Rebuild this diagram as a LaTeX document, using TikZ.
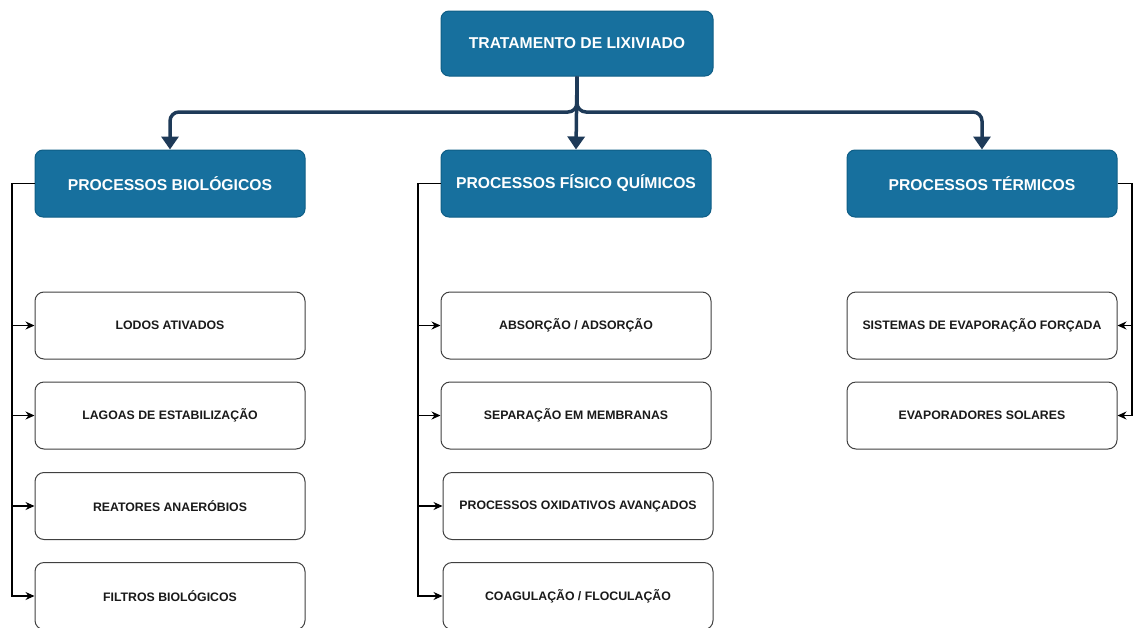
\documentclass[tikz,border=0pt]{standalone}
\usepackage{fontspec}
\setmainfont{Liberation Sans}
\usetikzlibrary{arrows.meta,positioning}
\definecolor{hdrfill}{HTML}{17709E}
\definecolor{hdrdraw}{HTML}{0F5E86}
\definecolor{busc}{HTML}{1E3A58}
\definecolor{txtc}{HTML}{1A1A1A}
\tikzset{
  hdr/.style={draw=hdrdraw, fill=hdrfill, line width=1pt, rounded corners=8pt,
    minimum width=270pt, minimum height=67pt, inner sep=0pt,
    text=white, font=\bfseries\fontsize{15.7}{18}\selectfont},
  child/.style={draw=black!75, fill=white, line width=1pt, rounded corners=9pt,
    minimum width=270pt, minimum height=67pt, inner sep=0pt,
    text=txtc, font=\bfseries\fontsize{12.3}{14}\selectfont},
  bus/.style={draw=busc, line width=3.5pt, rounded corners=9pt,
    -{Triangle[width=17pt,length=13pt]}},
  link/.style={draw=black, line width=1.1pt, -{Stealth[width=8pt,length=9pt]}}
}
\begin{document}
\begin{tikzpicture}[x=1pt,y=-1pt]
\useasboundingbox (0,0) rectangle (1133,627);
\node[hdr, minimum width=272pt, minimum height=65pt] (top) at (577,43.5) {TRATAMENTO DE LIXIVIADO};
\node[hdr] (pb) at (170,183.5) {PROCESSOS BIOLÓGICOS};
\node[hdr] (pfq) at (576,183.5) {PROCESSOS FÍSICO QUÍMICOS};
\node[hdr] (pt) at (982,183.5) {PROCESSOS TÉRMICOS};

\node[child] (b1) at (170,325.5) {LODOS ATIVADOS};
\node[child] (b2) at (170,415.5) {LAGOAS DE ESTABILIZAÇÃO};
\node[child] (b3) at (170,506) {REATORES ANAERÓBIOS};
\node[child] (b4) at (170,596) {FILTROS BIOLÓGICOS};

\node[child] (f1) at (576,325.5) {ABSORÇÃO / ADSORÇÃO};
\node[child] (f2) at (576,415.5) {SEPARAÇÃO EM MEMBRANAS};
\node[child] (f3) at (578,506) {PROCESSOS OXIDATIVOS AVANÇADOS};
\node[child] (f4) at (578,596) {COAGULAÇÃO / FLOCULAÇÃO};

\node[child] (t1) at (982,325.5) {SISTEMAS DE EVAPORAÇÃO FORÇADA};
\node[child] (t2) at (982,415.5) {EVAPORADORES SOLARES};

\coordinate (j) at (577,112);
\draw[bus] (top.south) -- (j) -| (pb.north);
\draw[bus] (top.south) -- (j) -| (pt.north);
\draw[bus] (top.south) -- (pfq.north);

\foreach \c in {b1,b2,b3,b4}
  \draw[link] (pb.west) -- (12,183.5) |- (\c.west);
\foreach \c in {f1,f2,f3,f4}
  \draw[link] (pfq.west) -- (418,183.5) |- (\c.west);
\foreach \c in {t1,t2}
  \draw[link] (pt.east) -- (1132,183.5) |- (\c.east);
\end{tikzpicture}
\end{document}
